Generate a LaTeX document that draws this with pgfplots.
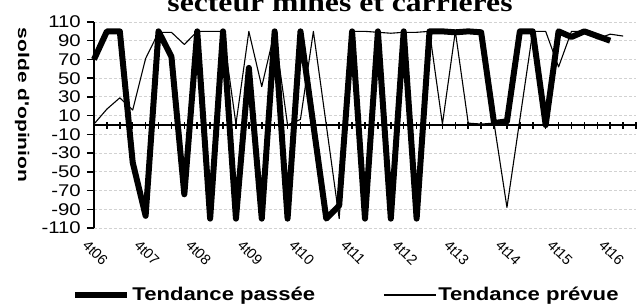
\documentclass[border=0pt]{standalone}
\usepackage{fontspec}
\setmainfont{Liberation Sans}[FakeStretch=1.2]
\newfontfamily\titlefont{Liberation Serif}[FakeStretch=1.2]
\newfontfamily\ylabfont{Liberation Sans}[FakeStretch=1.36]
\newfontfamily\xlabfont{Liberation Sans}
\usepackage{pgfplots}
\pgfplotsset{compat=1.18}
\definecolor{thin}{RGB}{80,80,80}
\definecolor{gridc}{RGB}{210,210,210}
\begin{document}
\begin{tikzpicture}
\begin{axis}[
  scale only axis, width=542bp, height=206bp,
  xmin=0, xmax=42, ymin=-110, ymax=110,
  clip=false,
  axis y line*=left, axis x line*=middle,
  axis line style={line width=2bp, black},
  xtick={0,...,42}, xticklabels={},
  ytick={-110,-90,...,110},
  yticklabels={-110,-90,-70,-50,-30,-10,10,30,50,70,90,110},
  xtick align=center, ytick align=outside,
  major tick length=7bp,
  tick style={line width=1.5bp, black},
  ymajorgrids,
  major grid style={draw=gridc, dash pattern=on 3bp off 2bp, line width=1bp},
  yticklabel style={font=\fontsize{17}{17}\selectfont, inner sep=1bp, xshift=-5bp},
  ylabel={solde d'opinion},
  ylabel style={font=\ylabfont\bfseries\fontsize{15.5}{15.5}\selectfont, at={(axis description cs:-0.1328,0.597)}, rotate=180, anchor=center},
  legend style={draw=none, fill=none, at={(axis description cs:0.4659,-0.325)}, anchor=center,
    legend columns=2, font=\bfseries\fontsize{18.5}{18.5}\selectfont,
    /tikz/every even column/.append style={column sep=66bp}},
  legend cell align=left,
  legend image code/.code={\draw[#1] (0bp,0bp) -- (52bp,0bp);},
]
\addplot[black, line width=6bp, line join=round] coordinates {
(0,70) (1,100) (2,100) (3,-40) (4,-97) (5,100) (6,73) (7,-74) (8,100) (9,-100)
(10,100) (11,-100) (12,61) (13,-100) (14,100) (15,-100) (16,100) (17,0) (18,-100) (19,-86)
(20,100) (21,-100) (22,100) (23,-100) (24,100) (25,-100) (26,100) (27,100) (28,99) (29,100)
(30,99) (31,2) (32,4) (33,100) (34,100) (35,0) (36,100) (37,94) (38,100) (39,95) (40,90)
};
\addlegendentry{Tendance passée}
\addplot[thin, line width=1.1bp, line join=round] coordinates {
(0,1) (1,17) (2,29) (3,16) (4,71) (5,99) (6,99) (7,86) (8,100) (9,100)
(10,100) (11,1) (12,100) (13,41) (14,100) (15,0) (16,6) (17,100) (18,0) (19,-100)
(20,100) (21,100) (22,99) (23,98) (24,99) (25,99) (26,100) (27,1) (28,100) (29,2)
(30,1) (31,2) (32,-88) (33,6) (34,100) (35,100) (36,62) (37,100) (38,100) (39,92)
(40,97) (41,95)
};
\addlegendentry{Tendance prévue}
\end{axis}
\begin{axis}[
  scale only axis, width=542bp, height=206bp,
  xmin=0, xmax=42, ymin=-110, ymax=110,
  hide y axis, axis x line*=bottom, x axis line style={draw=none},
  xtick={0,4,...,40},
  xticklabels={4t06,4t07,4t08,4t09,4t10,4t11,4t12,4t13,4t14,4t15,4t16},
  xtick style={draw=none},
  xticklabel style={rotate=-45, anchor=north west, font=\xlabfont\fontsize{14.5}{14.5}\selectfont, xshift=1bp, yshift=-8bp},
]
\addplot[draw=none] coordinates {(0,0)};
\end{axis}
\node[anchor=base, font=\titlefont\bfseries\fontsize{26.5}{26.5}\selectfont] at (246bp,216bp) {secteur mines et carrières};
\pgfresetboundingbox
\useasboundingbox (-94bp,-76bp) rectangle (549bp,228bp);
\end{tikzpicture}
\end{document}
